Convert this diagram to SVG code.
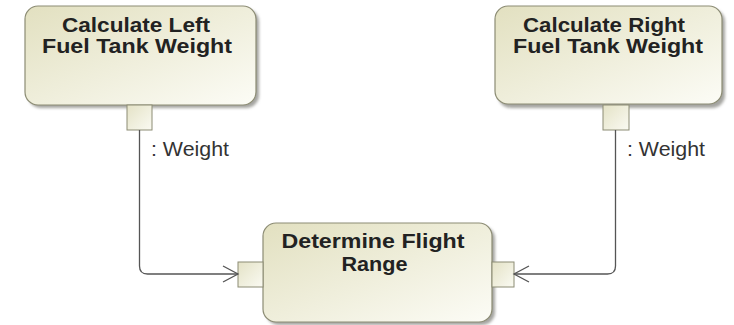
<svg xmlns="http://www.w3.org/2000/svg" width="734" height="325" viewBox="0 0 734 325">
  <defs>
    <linearGradient id="actFill" x1="0" y1="0" x2="1" y2="1">
      <stop offset="0" stop-color="#e2e0c0"/>
      <stop offset="1" stop-color="#fcfcf6"/>
    </linearGradient>
    <linearGradient id="pinFill" x1="0" y1="0" x2="1" y2="1">
      <stop offset="0" stop-color="#e4e2c6"/>
      <stop offset="1" stop-color="#fafaf2"/>
    </linearGradient>
    <filter id="dropShadow" x="-5%" y="-5%" width="115%" height="120%">
      <feGaussianBlur stdDeviation="1.5"/>
    </filter>
    <marker id="openArrow" viewBox="0 0 18 18" refX="16" refY="9" markerWidth="18" markerHeight="18" markerUnits="userSpaceOnUse" orient="auto">
      <path d="M1,1 L16,9 L1,17" fill="none" stroke="#555" stroke-width="1.3"/>
    </marker>
  </defs>
  <style>
    .shadow { fill: #a4a4a0; filter: url(#dropShadow); }
    .action { fill: url(#actFill); stroke: #8c8c74; stroke-width: 1.2; }
    .pin { fill: url(#pinFill); stroke: #8c8c74; stroke-width: 1; }
    .title { font-family: "Liberation Sans", Arial, sans-serif; font-size: 21px; font-weight: bold; fill: #222; text-anchor: middle; }
    .label { font-family: "Liberation Sans", Arial, sans-serif; font-size: 20px; fill: #333; }
    .flow { fill: none; stroke: #555; stroke-width: 1.3; }
  </style>
  <rect width="734" height="325" fill="#ffffff"/>

  <g id="calc-left">
    <rect class="shadow" x="28" y="9" width="231" height="99" rx="13"/>
    <rect class="action" x="25" y="6" width="231" height="99" rx="13"/>
    <text class="title" x="136" y="32" textLength="148" lengthAdjust="spacingAndGlyphs">Calculate Left</text>
    <text class="title" x="137" y="53" textLength="190" lengthAdjust="spacingAndGlyphs">Fuel Tank Weight</text>
    <rect class="pin" x="127" y="105" width="25" height="25"/>
    <text class="label" x="151" y="156" textLength="78" lengthAdjust="spacingAndGlyphs">: Weight</text>
  </g>

  <g id="calc-right">
    <rect class="shadow" x="498" y="9" width="227" height="99" rx="13"/>
    <rect class="action" x="495" y="6" width="227" height="98" rx="13"/>
    <text class="title" x="604" y="32" textLength="162" lengthAdjust="spacingAndGlyphs">Calculate Right</text>
    <text class="title" x="608" y="53" textLength="190" lengthAdjust="spacingAndGlyphs">Fuel Tank Weight</text>
    <rect class="pin" x="603" y="105" width="26" height="25"/>
    <text class="label" x="627" y="156" textLength="78" lengthAdjust="spacingAndGlyphs">: Weight</text>
  </g>

  <g id="determine-range">
    <rect class="shadow" x="266" y="226" width="229" height="99" rx="13"/>
    <rect class="action" x="263" y="223" width="229" height="99" rx="13"/>
    <text class="title" x="373" y="248" textLength="183" lengthAdjust="spacingAndGlyphs">Determine Flight</text>
    <text class="title" x="374.5" y="271" textLength="66" lengthAdjust="spacingAndGlyphs">Range</text>
    <rect class="pin" x="238" y="262" width="25" height="25"/>
    <rect class="pin" x="492" y="262" width="22" height="25"/>
  </g>

  <g id="connectors">
    <path class="flow" d="M139.5,130 V266 Q139.5,274 147.5,274 H238" marker-end="url(#openArrow)"/>
    <path class="flow" d="M615.5,130 V266 Q615.5,274 607.5,274 H514" marker-end="url(#openArrow)"/>
  </g>
</svg>
